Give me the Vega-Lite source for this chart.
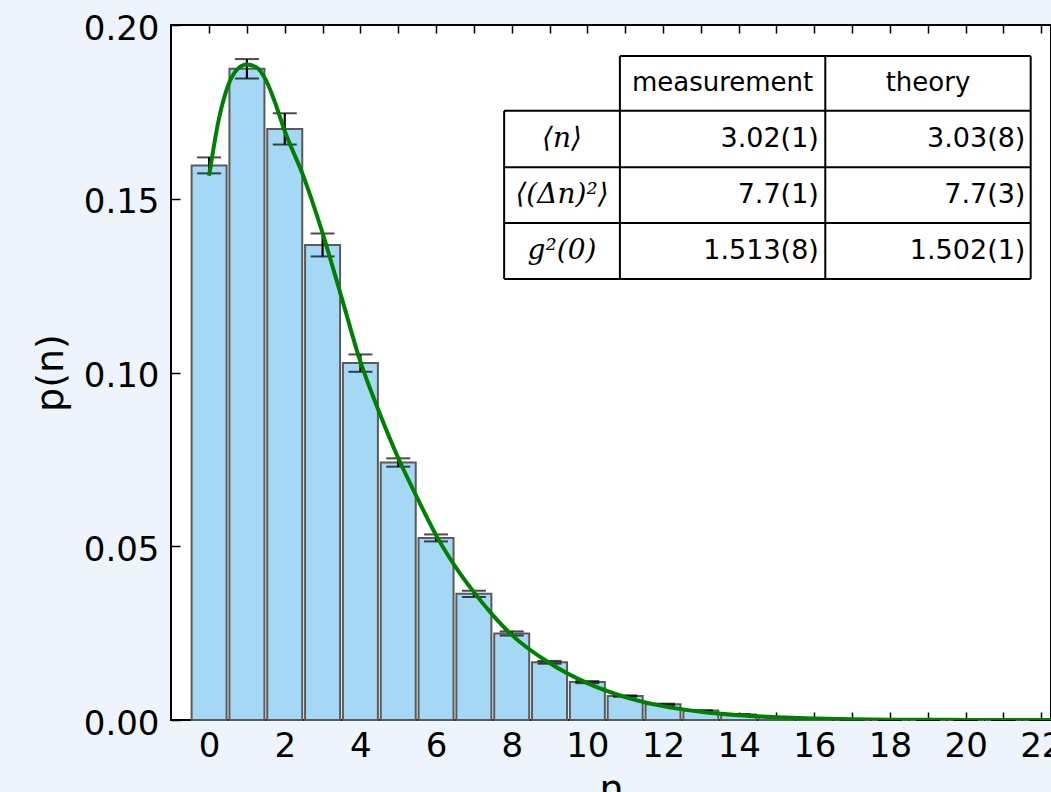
{
  "$schema": "https://vega.github.io/schema/vega-lite/v6.json",
  "autosize": "none",
  "padding": {"left": 171, "top": 25, "right": 0, "bottom": 72},
  "width": 880,
  "height": 695,
  "background": "#edf4fc",
  "config": {
    "view": {"stroke": "#000000", "strokeWidth": 2, "fill": "#ffffff"},
    "axis": {
      "labelFont": "DejaVu Sans",
      "labelFontSize": 34,
      "labelColor": "#000000",
      "titleFont": "DejaVu Sans",
      "titleFontSize": 38,
      "titleFontWeight": "normal",
      "titleColor": "#000000",
      "tickColor": "#000000",
      "tickWidth": 1.5,
      "domain": false,
      "grid": false
    }
  },
  "datasets": {
    "bars": [
      {"n": 0, "p": 0.1596, "lo": 0.1573, "hi": 0.1619},
      {"n": 1, "p": 0.1874, "lo": 0.1846, "hi": 0.1902},
      {"n": 2, "p": 0.1701, "lo": 0.1656, "hi": 0.1746},
      {"n": 3, "p": 0.1367, "lo": 0.1334, "hi": 0.1400},
      {"n": 4, "p": 0.1027, "lo": 0.1002, "hi": 0.1052},
      {"n": 5, "p": 0.0741, "lo": 0.0729, "hi": 0.0753},
      {"n": 6, "p": 0.0524, "lo": 0.0514, "hi": 0.0534},
      {"n": 7, "p": 0.0363, "lo": 0.0354, "hi": 0.0372},
      {"n": 8, "p": 0.0249, "lo": 0.0243, "hi": 0.0255},
      {"n": 9, "p": 0.0166, "lo": 0.0162, "hi": 0.0170},
      {"n": 10, "p": 0.0109, "lo": 0.0106, "hi": 0.0112},
      {"n": 11, "p": 0.0069, "lo": 0.0067, "hi": 0.0071},
      {"n": 12, "p": 0.0045, "lo": 0.0043, "hi": 0.0047},
      {"n": 13, "p": 0.0027, "lo": 0.0026, "hi": 0.0028},
      {"n": 14, "p": 0.0016, "lo": 0.0015, "hi": 0.0017},
      {"n": 15, "p": 0.0008, "lo": 0.0007, "hi": 0.0009},
      {"n": 16, "p": 0.0004, "lo": 0.0004, "hi": 0.0005},
      {"n": 17, "p": 0.0002, "lo": 0.0002, "hi": 0.0002},
      {"n": 18, "p": 0.0001, "lo": 0.0001, "hi": 0.0001},
      {"n": 19, "p": 0.00006, "lo": 0.00006, "hi": 0.00006},
      {"n": 20, "p": 0.00003, "lo": 0.00003, "hi": 0.00003},
      {"n": 21, "p": 0.00002, "lo": 0.00002, "hi": 0.00002},
      {"n": 22, "p": 0.00001, "lo": 0.00001, "hi": 0.00001}
    ],
    "curve": [
      {"n": 0, "fit": 0.1566},
      {"n": 0.25, "fit": 0.1725},
      {"n": 0.5, "fit": 0.1825},
      {"n": 0.75, "fit": 0.1873},
      {"n": 1.0, "fit": 0.1886},
      {"n": 1.25, "fit": 0.1878},
      {"n": 1.5, "fit": 0.1842},
      {"n": 1.75, "fit": 0.1775},
      {"n": 2.0, "fit": 0.1695},
      {"n": 2.5, "fit": 0.1563},
      {"n": 3.0, "fit": 0.1401},
      {"n": 3.5, "fit": 0.1217},
      {"n": 4.0, "fit": 0.1031},
      {"n": 4.5, "fit": 0.0885},
      {"n": 5.0, "fit": 0.0754},
      {"n": 5.5, "fit": 0.0640},
      {"n": 6.0, "fit": 0.0532},
      {"n": 6.5, "fit": 0.0443},
      {"n": 7.0, "fit": 0.0368},
      {"n": 7.5, "fit": 0.0302},
      {"n": 8.0, "fit": 0.0245},
      {"n": 9.0, "fit": 0.0164},
      {"n": 10.0, "fit": 0.0106},
      {"n": 11.0, "fit": 0.0066},
      {"n": 12.0, "fit": 0.0040},
      {"n": 13.0, "fit": 0.0024},
      {"n": 14.0, "fit": 0.0014},
      {"n": 15.0, "fit": 0.0008},
      {"n": 16.0, "fit": 0.0004},
      {"n": 17.0, "fit": 0.0002},
      {"n": 18.0, "fit": 0.0001},
      {"n": 19.0, "fit": 0.00006},
      {"n": 20.0, "fit": 0.00003},
      {"n": 21.0, "fit": 0.00002},
      {"n": 22.0, "fit": 0.00001},
      {"n": 23.0, "fit": 0.000005}
    ],
    "grid": [
      {"x1": 10.86, "x2": 21.72, "y1": 0.1911, "y2": 0.1911},
      {"x1": 7.80, "x2": 21.72, "y1": 0.1753, "y2": 0.1753},
      {"x1": 7.80, "x2": 21.72, "y1": 0.1591, "y2": 0.1591},
      {"x1": 7.80, "x2": 21.72, "y1": 0.1430, "y2": 0.1430},
      {"x1": 7.80, "x2": 21.72, "y1": 0.1269, "y2": 0.1269},
      {"x1": 7.80, "x2": 7.80, "y1": 0.1269, "y2": 0.1753},
      {"x1": 10.86, "x2": 10.86, "y1": 0.1269, "y2": 0.1911},
      {"x1": 16.29, "x2": 16.29, "y1": 0.1269, "y2": 0.1911},
      {"x1": 21.72, "x2": 21.72, "y1": 0.1269, "y2": 0.1911}
    ],
    "header": [
      {"x": 13.575, "y": 0.1832, "label": "measurement"},
      {"x": 19.005, "y": 0.1832, "label": "theory"}
    ],
    "rowlabels": [
      {"x": 9.33, "y": 0.1672, "label": "⟨n⟩"},
      {"x": 9.33, "y": 0.1511, "label": "⟨(Δn)²⟩"},
      {"x": 9.33, "y": 0.1350, "label": "g²(0)"}
    ],
    "values": [
      {"x": 16.12, "y": 0.1672, "label": "3.02(1)"},
      {"x": 21.58, "y": 0.1672, "label": "3.03(8)"},
      {"x": 16.12, "y": 0.1511, "label": "7.7(1)"},
      {"x": 21.58, "y": 0.1511, "label": "7.7(3)"},
      {"x": 16.12, "y": 0.1350, "label": "1.513(8)"},
      {"x": 21.58, "y": 0.1350, "label": "1.502(1)"}
    ]
  },
  "resolve": {"axis": {"x": "independent", "y": "shared"}},
  "layer": [
    {
      "data": {"name": "bars"},
      "mark": {"type": "bar", "width": 35, "fill": "#a4d8f5", "stroke": "#5a5a5a", "strokeWidth": 2},
      "encoding": {
        "x": {
          "field": "n", "type": "quantitative",
          "scale": {"domain": [-0.875, 22.125], "nice": false, "zero": false},
          "axis": {
            "orient": "bottom", "title": "n",
            "values": [0,1,2,3,4,5,6,7,8,9,10,11,12,13,14,15,16,17,18,19,20,21,22],
            "labelExpr": "datum.value % 2 === 0 ? datum.label : ''",
            "tickSize": -8, "labelPadding": 17, "labelFlush": false, "titlePadding": 8
          }
        },
        "y": {
          "field": "p", "type": "quantitative",
          "scale": {"domain": [0, 0.2], "nice": false},
          "axis": {
            "orient": "left", "title": "p(n)",
            "values": [0, 0.05, 0.1, 0.15, 0.2], "format": ".2f",
            "tickSize": -9, "labelPadding": 21, "labelOffset": 4, "labelFlush": false, "titlePadding": 13
          }
        }
      }
    },
    {
      "data": {"name": "bars"},
      "mark": {"type": "rule", "color": "#000000", "strokeWidth": 2.2},
      "encoding": {
        "x": {"field": "n", "type": "quantitative", "axis": null},
        "y": {"field": "lo", "type": "quantitative"},
        "y2": {"field": "hi"}
      }
    },
    {
      "data": {"name": "bars"},
      "mark": {"type": "tick", "orient": "horizontal", "color": "#000000", "size": 24, "thickness": 2},
      "encoding": {
        "x": {"field": "n", "type": "quantitative", "axis": null},
        "y": {"field": "lo", "type": "quantitative"}
      }
    },
    {
      "data": {"name": "bars"},
      "mark": {"type": "tick", "orient": "horizontal", "color": "#000000", "size": 24, "thickness": 2},
      "encoding": {
        "x": {"field": "n", "type": "quantitative", "axis": null},
        "y": {"field": "hi", "type": "quantitative"}
      }
    },
    {
      "data": {"name": "curve"},
      "mark": {"type": "line", "color": "#008000", "strokeWidth": 4, "interpolate": "monotone", "clip": true},
      "encoding": {
        "x": {
          "field": "n", "type": "quantitative",
          "axis": {
            "orient": "top", "title": null, "labels": false,
            "values": [0,1,2,3,4,5,6,7,8,9,10,11,12,13,14,15,16,17,18,19,20,21,22],
            "tickSize": -8
          }
        },
        "y": {"field": "fit", "type": "quantitative"}
      }
    },
    {
      "data": {"name": "grid"},
      "mark": {"type": "rule", "color": "#000000", "strokeWidth": 2},
      "encoding": {
        "x": {"field": "x1", "type": "quantitative", "axis": null},
        "x2": {"field": "x2"},
        "y": {"field": "y1", "type": "quantitative"},
        "y2": {"field": "y2"}
      }
    },
    {
      "data": {"name": "header"},
      "mark": {"type": "text", "font": "DejaVu Sans", "fontSize": 26, "align": "center", "baseline": "middle", "color": "#000000"},
      "encoding": {
        "x": {"field": "x", "type": "quantitative", "axis": null},
        "y": {"field": "y", "type": "quantitative"},
        "text": {"field": "label"}
      }
    },
    {
      "data": {"name": "rowlabels"},
      "mark": {"type": "text", "font": "DejaVu Serif", "fontSize": 28, "fontStyle": "italic", "align": "center", "baseline": "middle", "color": "#000000"},
      "encoding": {
        "x": {"field": "x", "type": "quantitative", "axis": null},
        "y": {"field": "y", "type": "quantitative"},
        "text": {"field": "label"}
      }
    },
    {
      "data": {"name": "values"},
      "mark": {"type": "text", "font": "DejaVu Sans", "fontSize": 27, "align": "right", "baseline": "middle", "color": "#000000"},
      "encoding": {
        "x": {"field": "x", "type": "quantitative", "axis": null},
        "y": {"field": "y", "type": "quantitative"},
        "text": {"field": "label"}
      }
    }
  ]
}
